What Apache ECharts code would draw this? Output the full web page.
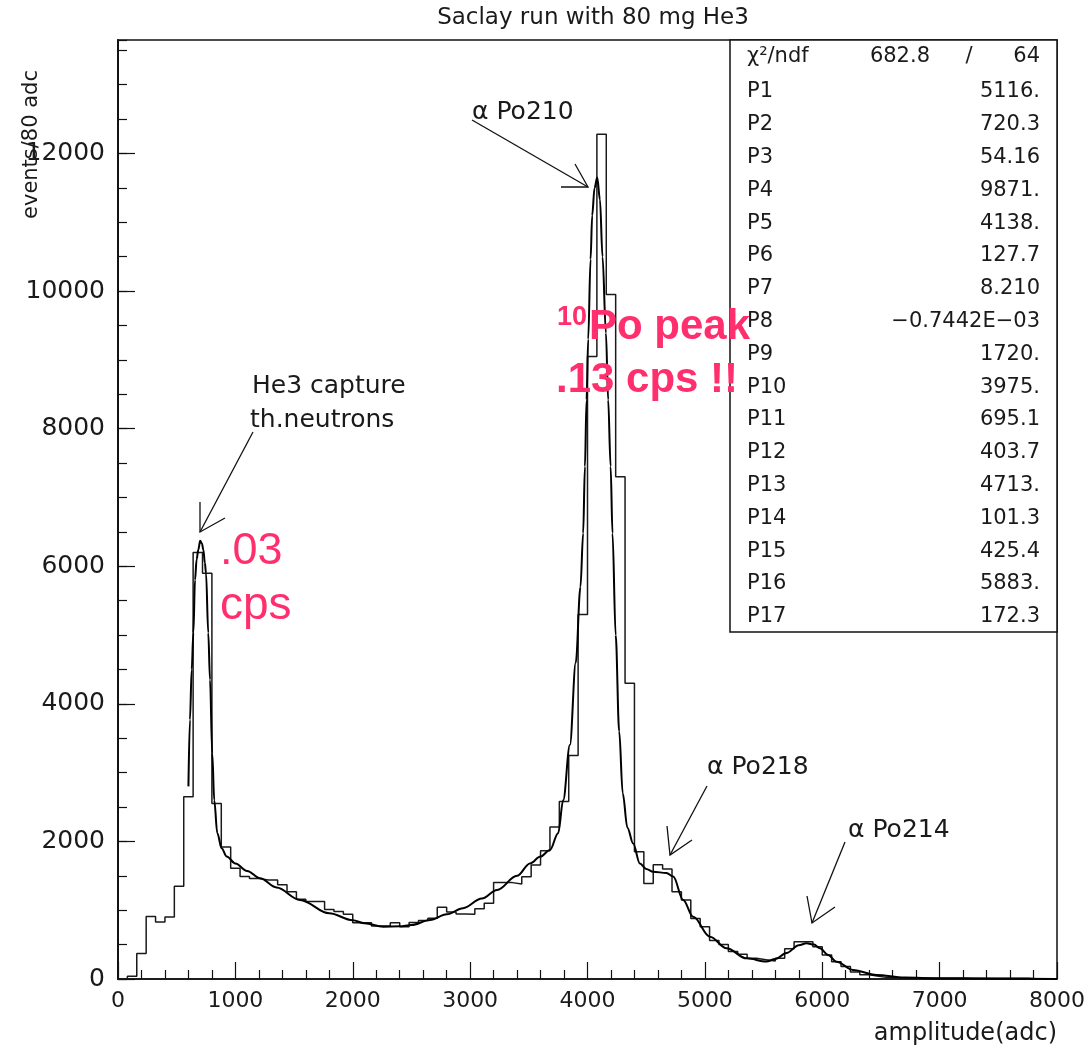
<!DOCTYPE html>
<html><head><meta charset="utf-8">
<script src="https://cdn.jsdelivr.net/npm/echarts@6/dist/echarts.min.js"></script>
<style>html,body{margin:0;padding:0;background:#fff}#c{width:1092px;height:1051px}</style>
</head><body><div id="c"></div>
<script>
const chartTitle = 'Saclay run with 80 mg He3';
const xName = 'amplitude(adc)';
const yName = 'events/80 adc';
const binWidth = 80;
// histogram counts per 80-adc bin, 0..8000
const counts = [
  0, 40, 370, 910, 830, 900, 1350, 2650, 6200, 5900,
  2550, 1920, 1610, 1490, 1460, 1440, 1440, 1370, 1270, 1160,
  1125, 1125, 1010, 980, 941, 819, 819, 770, 770, 819,
  761, 820, 850, 882, 1043, 975, 945, 941, 1020, 1101,
  1401, 1401, 1380, 1485, 1658, 1866, 2210, 2580, 3250, 5300,
  9050, 12280, 9950, 7300, 4300, 1850, 1390, 1660, 1600, 1270,
  1150, 880, 760, 560, 500, 400, 360, 300, 280, 260,
  300, 440, 540, 540, 470, 350, 250, 180, 100, 60,
  40, 20, 18, 16, 15, 15, 14, 14, 13, 13,
  12, 12, 12, 11, 11, 10, 10, 0, 0, 0
];
// fitted curve
const fitX = [600, 613, 628, 642, 656, 670, 684, 700, 715, 727, 740, 750, 769, 784, 803, 820, 846, 883, 926, 1000,
  1100, 1210, 1350, 1550, 1800, 2000, 2100, 2260, 2400, 2500, 2660, 2800, 2940, 3100, 3230, 3400, 3510, 3600, 3680, 3750,
  3793, 3850, 3900, 3940, 3963, 3978, 3992, 4006, 4026, 4040, 4060, 4083, 4106, 4128, 4157, 4176, 4197, 4213, 4240, 4270,
  4300, 4340, 4389, 4446, 4500, 4560, 4673, 4730, 4815, 4900, 5043, 5185, 5355, 5525, 5600, 5696, 5800, 5866, 5930, 5980,
  6050, 6122, 6262, 6462, 6700, 7000, 7500, 8000];
const fitY = [2800, 3770, 4500, 5030, 5800, 6100, 6240, 6370, 6330, 6240, 6050, 5900, 5030, 4350, 3280, 2600, 2120, 1900, 1780, 1680,
  1570, 1465, 1330, 1150, 955, 855, 810, 761, 765, 785, 858, 940, 1030, 1170, 1295, 1500, 1680, 1780, 1876, 2120,
  2600, 3400, 4600, 5700, 6480, 7450, 8420, 9300, 10460, 11100, 11500, 11650, 11330, 10500, 9390, 8420, 7450, 6480, 5000, 3600,
  2700, 2200, 1970, 1680, 1600, 1560, 1540, 1490, 1150, 905, 615, 446, 300, 255, 290, 378, 490, 519, 500, 446,
  350, 252, 131, 58, 20, 8, 3, 1];
const xTickLabels = [0, 1000, 2000, 3000, 4000, 5000, 6000, 7000, 8000];
const yTickLabels = [0, 2000, 4000, 6000, 8000, 10000, 12000];
const chiLabel = 'χ²/ndf';
const chiValues = ['682.8', '/', '64'];
const parNames = ['P1','P2','P3','P4','P5','P6','P7','P8','P9','P10','P11','P12','P13','P14','P15','P16','P17'];
const parValues = ['5116.','720.3','54.16','9871.','4138.','127.7','8.210','\u22120.7442E\u221203','1720.','3975.','695.1','403.7','4713.','101.3','425.4','5883.','172.3'];
const notes = [
  {text: 'α Po210', x: 472, y: 112},
  {text: 'He3 capture', x: 252, y: 386},
  {text: 'th.neutrons', x: 250, y: 420},
  {text: 'α Po218', x: 707, y: 767},
  {text: 'α Po214', x: 848, y: 830}
];

const histData = counts.map((v, i) => [i * binWidth, v]);
histData.push([counts.length * binWidth, counts[counts.length - 1]]);
const fitData = fitX.map((x, i) => [x, fitY[i]]);

const FONT = 'DejaVu Sans';
const TXT = '#1a1a1a';
const PINK = '#ff2f6e';

const graphics = [];
graphics.push({type: 'text', x: 593, y: 18, style: {text: chartTitle, font: '23px "DejaVu Sans"', fill: TXT, align: 'center', verticalAlign: 'middle'}});
graphics.push({type: 'text', x: 1057, y: 1034, style: {text: xName, font: '24px "DejaVu Sans"', fill: TXT, align: 'right', verticalAlign: 'middle'}});
graphics.push({type: 'text', x: 32, y: 70, rotation: Math.PI / 2, style: {text: yName, font: '21px "DejaVu Sans"', fill: TXT, align: 'right', verticalAlign: 'middle'}});
// stats box
graphics.push({type: 'rect', shape: {x: 730, y: 40, width: 327, height: 592}, style: {fill: '#fff', stroke: '#111', lineWidth: 1.5}, z: 10});
graphics.push({type: 'text', x: 747, y: 57, z: 11, style: {text: chiLabel, font: '21px "DejaVu Sans"', fill: TXT, verticalAlign: 'middle'}});
graphics.push({type: 'text', x: 930, y: 57, z: 11, style: {text: chiValues[0], font: '21px "DejaVu Sans"', fill: TXT, align: 'right', verticalAlign: 'middle'}});
graphics.push({type: 'text', x: 969, y: 57, z: 11, style: {text: chiValues[1], font: '21px "DejaVu Sans"', fill: TXT, align: 'center', verticalAlign: 'middle'}});
graphics.push({type: 'text', x: 1040, y: 57, z: 11, style: {text: chiValues[2], font: '21px "DejaVu Sans"', fill: TXT, align: 'right', verticalAlign: 'middle'}});
parNames.forEach((n, i) => {
  const y = 92 + i * 32.8;
  graphics.push({type: 'text', x: 747, y: y, z: 11, style: {text: n, font: '21px "DejaVu Sans"', fill: TXT, verticalAlign: 'middle'}});
  graphics.push({type: 'text', x: 1040, y: y, z: 11, style: {text: parValues[i], font: '21px "DejaVu Sans"', fill: TXT, align: 'right', verticalAlign: 'middle'}});
});
// annotations
notes.forEach(n => graphics.push({type: 'text', x: n.x, y: n.y, z: 12, style: {text: n.text, font: '25px "DejaVu Sans"', fill: TXT, verticalAlign: 'middle'}}));
const arrows = [
  {shaft: [[472, 120], [588, 187]], head: [[561, 187], [588, 187], [575, 164]]},
  {shaft: [[253, 432], [200, 532]], head: [[200, 502], [200, 532], [225, 518]]},
  {shaft: [[707, 786], [670, 855]], head: [[667, 826], [670, 855], [692, 840]]},
  {shaft: [[845, 842], [812, 923]], head: [[807, 896], [812, 923], [835, 907]]}
];
arrows.forEach(a => {
  graphics.push({type: 'polyline', z: 12, shape: {points: a.shaft}, style: {stroke: '#111', lineWidth: 1.3, fill: null}});
  graphics.push({type: 'polyline', z: 12, shape: {points: a.head}, style: {stroke: '#111', lineWidth: 1.3, fill: null}});
});
// pink hand annotations
graphics.push({type: 'text', x: 220, y: 552, z: 13, style: {text: '.03', font: '45px "Liberation Sans"', fill: PINK, verticalAlign: 'middle'}});
graphics.push({type: 'text', x: 220, y: 606, z: 13, style: {text: 'cps', font: '46px "Liberation Sans"', fill: PINK, verticalAlign: 'middle'}});
graphics.push({type: 'text', x: 557, y: 318, z: 13, style: {text: '10', font: 'bold 27px "Liberation Sans"', fill: PINK, verticalAlign: 'middle'}});
graphics.push({type: 'text', x: 589, y: 327, z: 13, style: {text: 'Po peak', font: 'bold 42px "Liberation Sans"', fill: PINK, verticalAlign: 'middle'}});
graphics.push({type: 'text', x: 556, y: 380, z: 13, style: {text: '.13 cps !!', font: 'bold 42px "Liberation Sans"', fill: PINK, verticalAlign: 'middle'}});

const axisCommon = {
  axisLine: {show: true, lineStyle: {color: '#111', width: 1.5}},
  splitLine: {show: false},
  minorSplitLine: {show: false}
};

const option = {
  animation: false,
  backgroundColor: '#fff',
  grid: {left: 118, right: 35, top: 40, bottom: 72, show: true, borderColor: '#111', borderWidth: 1.5, backgroundColor: 'transparent'},
  xAxis: [Object.assign({
    type: 'value', min: 0, max: 8000, interval: 1000, position: 'bottom',
    axisTick: {show: true, inside: true, length: 17, lineStyle: {color: '#111', width: 1.2}},
    minorTick: {show: true, splitNumber: 5, length: 9, lineStyle: {color: '#111', width: 1.2}},
    axisLabel: {fontSize: 22, fontFamily: FONT, color: TXT, margin: 11,
      formatter: v => xTickLabels.includes(v) ? String(v) : ''}
  }, axisCommon)],
  yAxis: [Object.assign({
    type: 'value', min: 0, max: 13650, interval: 2000, position: 'left',
    axisTick: {show: true, inside: true, length: 17, lineStyle: {color: '#111', width: 1.2}},
    axisLabel: {fontSize: 25, fontFamily: FONT, color: TXT, margin: 13, showMaxLabel: false,
      formatter: v => yTickLabels.includes(v) ? String(v) : ''}
  }, axisCommon), Object.assign({
    type: 'value', min: 0, max: 13650, interval: 500, position: 'left', offset: 0,
    axisTick: {show: true, inside: true, length: 9, lineStyle: {color: '#111', width: 1.2}},
    axisLabel: {show: false}
  }, axisCommon)],
  series: [
    {type: 'line', name: 'data', data: histData, step: 'end', symbol: 'none', xAxisIndex: 0, yAxisIndex: 0,
      lineStyle: {color: '#1a1a1a', width: 1.5}, z: 3},
    {type: 'line', name: 'fit', data: fitData, smooth: 0.35, smoothMonotone: 'x', symbol: 'none', xAxisIndex: 0, yAxisIndex: 0,
      lineStyle: {color: '#000', width: 2}, z: 4}
  ],
  graphic: graphics
};
const chart = echarts.init(document.getElementById('c'), null, {renderer: 'canvas'});
chart.setOption(option);
</script>
</body></html>
